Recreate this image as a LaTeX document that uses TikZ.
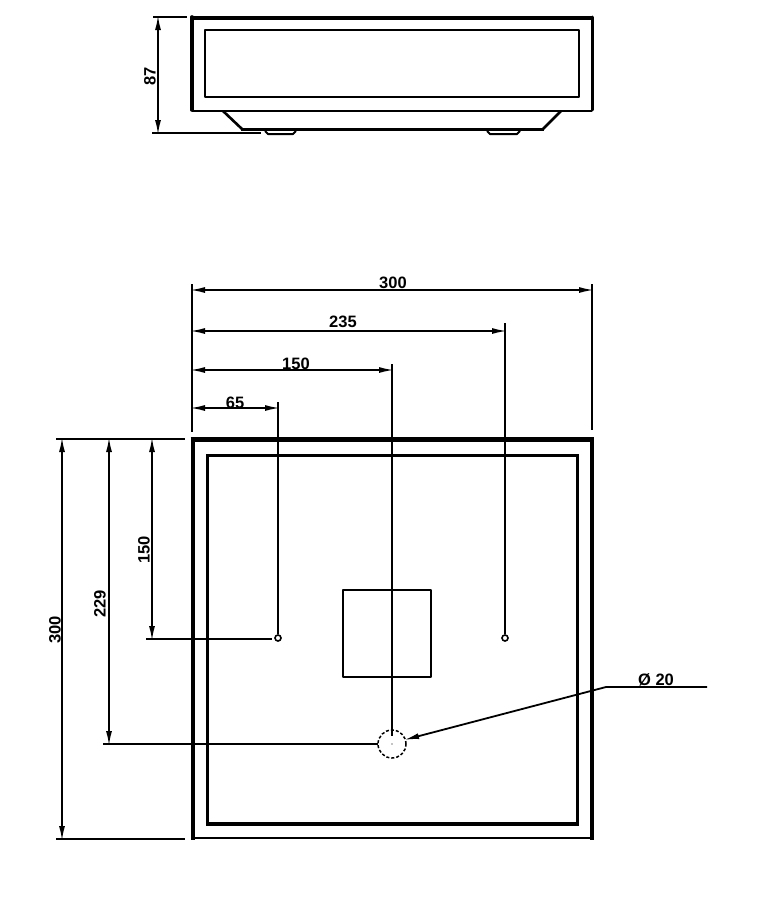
\documentclass[tikz,border=0pt]{standalone}
\usepackage{fontspec}
\setmainfont{Liberation Sans}
\usetikzlibrary{arrows.meta}
\tikzset{
  x=1pt,y=-1pt,
  dimtip/.tip={Latex[length=15pt,width=6pt]},
  dimline/.style={line width=1.8pt,black,{dimtip[sep=-2pt]}-{dimtip[sep=-2pt]}},
  extline/.style={line width=1.8pt,black},
  thick4/.style={line width=4.6pt},
  body2/.style={line width=2.6pt,line join=round},
  dimtext/.style={inner sep=0pt,font=\fontsize{16.5}{16.5}\selectfont\bfseries},
}
\begin{document}
\begin{tikzpicture}
\useasboundingbox (0,0) rectangle (761,900);
\fill[white] (0,0) rectangle (761,900);
% side view
\draw[line width=4pt] (190.5,17.5) -- (593,17.5);
\draw[line width=3.6pt,line cap=round] (192,17) -- (192,110);
\draw[line width=3pt,line cap=round] (592,17) -- (592,110);
\draw[body2] (192,111) -- (592,111);
\draw[line width=2.8pt,line join=round] (205,30) rectangle (579,97);
\draw[body2] (223,111) -- (242,129);
\draw[line width=3pt] (241,129) -- (544,129);
\draw[body2] (543,129) -- (561,111);
\draw[line width=2pt,line join=round] (265,131) -- (268,134) -- (293,134) -- (296,131);
\draw[line width=2pt,line join=round] (487,131) -- (490,134) -- (517,134) -- (520,131);
\coordinate (h1) at (158,17);
\coordinate (h2) at (158,133);
\draw[extline] (153,17) -- (187,17);
\draw[extline] (152,133) -- (261,133);
\draw[dimline] (h1) -- (h2);
\node[dimtext,rotate=90] (t87) at (150,76) {87};
% plan view
\draw[thick4] (190.5,439.5) -- (594,439.5);
\draw[thick4] (193,437) -- (193,840);
\draw[line width=3.4pt] (592,437) -- (592,840);
\draw[line width=1.8pt] (193,838) -- (592,838);
\draw[line width=3.6pt] (207.5,455.5) rectangle (577.5,824);
\draw[body2] (343,590) rectangle (431,677);
\node[draw,circle,line width=1.6pt,minimum size=6pt,inner sep=0pt] (h65) at (278,638) {};
\node[draw,circle,line width=1.6pt,minimum size=6pt,inner sep=0pt] (h235) at (505,638) {};
\node[draw,circle,line width=1.5pt,densely dashed,minimum size=28pt,inner sep=0pt] (hc) at (392,744) {};
\fill (392,744) circle (0.7);
% extension lines
\draw[extline] (192,284) -- (192,432);
\draw[extline] (592,284) -- (592,430);
\draw[extline] (505,323) -- (h235.north);
\draw[extline] (392,364) -- (392,736);
\draw[extline] (278,402) -- (h65.north);
\draw[extline] (56,439) -- (185,439);
\draw[extline] (56,839) -- (185,839);
\draw[extline] (103,744) -- (378,744);
\draw[extline] (146,639) -- (272,639);
% horizontal dims
\draw[dimline] (192,290) -- (592,290);
\draw[dimline] (192,331) -- (505,331);
\draw[dimline] (192,370) -- (392,370);
\draw[dimline] (192,408) -- (278,408);
\node[dimtext] (t300a) at (393,283) {300};
\node[dimtext] (t235) at (343,322) {235};
\node[dimtext] (t150a) at (296,364) {150};
\node[dimtext] (t65) at (235,403) {65};
% vertical dims
\draw[dimline] (62,439) -- (62,839);
\draw[dimline] (109,439) -- (109,744);
\draw[dimline] (152,439) -- (152,639);
\node[dimtext,rotate=90] (t300b) at (55,630) {300};
\node[dimtext,rotate=90] (t229) at (100,604) {229};
\node[dimtext,rotate=90] (t150b) at (144,550) {150};
% leader
\coordinate (lk) at (606,687);
\coordinate (le) at (707,687);
\draw[line width=1.8pt,{dimtip[sep=-2pt]}-] (hc.18) -- (lk) -- (le);
\node[dimtext] (t20) at (656,680) {Ø 20};
\end{tikzpicture}
\end{document}
